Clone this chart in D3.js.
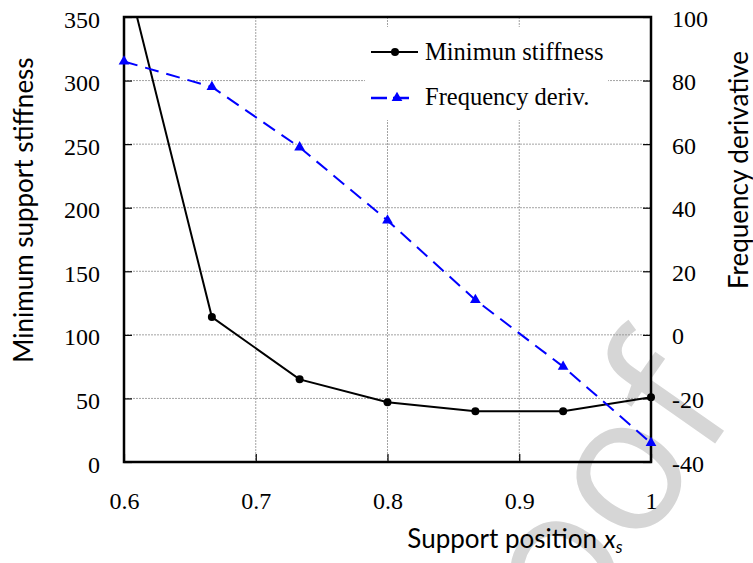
<!DOCTYPE html>
<html lang="en">
<head>
    <meta charset="UTF-8">
    <title>Minimum support stiffness</title>
    <script src="https://d3js.org/d3.v7.min.js"></script>
    <style>
        body { margin: 0; background: #fff; }
    </style>
</head>
<body>
    <div id="chart"></div>
    <script>
        // Data
        const positions = [0.6, 0.6667, 0.7333, 0.8, 0.8667, 0.9333, 1.0];
        const minStiffness = [391, 114, 65, 47, 40, 40, 51];
        const freqDeriv = [86, 78, 59, 36, 11, -10, -34];
        const xTicks = [0.6, 0.7, 0.8, 0.9, 1];
        const leftTicks = [0, 50, 100, 150, 200, 250, 300, 350];
        const rightTicks = [-40, -20, 0, 20, 40, 60, 80, 100];
        const seriesNames = ["Minimun stiffness", "Frequency deriv."];

        const width = 753;
        const height = 563;
        const margin = { top: 17, right: 102, bottom: 101, left: 124 };
        const innerW = width - margin.left - margin.right;
        const innerH = height - margin.top - margin.bottom;

        const svg = d3.select("#chart")
            .append("svg")
            .attr("width", width)
            .attr("height", height);

        // Watermark behind the chart
        svg.append("text")
            .attr("transform", "translate(462,805) rotate(-55)")
            .style("font-family", "'Open Sans', sans-serif")
            .style("font-size", "190px")
            .attr("fill", "#d6d6d6")
            .text("Proof");

        const g = svg.append("g")
            .attr("transform", `translate(${margin.left},${margin.top})`);

        const x = d3.scaleLinear().domain([0.6, 1]).range([0, innerW]);
        const yL = d3.scaleLinear().domain([0, 350]).range([innerH, 0]);
        const yR = d3.scaleLinear().domain([-40, 100]).range([innerH, 0]);

        // Grid lines
        g.append("g")
            .selectAll("line")
            .data(leftTicks.slice(1, -1))
            .join("line")
            .attr("x1", 0).attr("x2", innerW)
            .attr("y1", d => yL(d)).attr("y2", d => yL(d))
            .attr("stroke", "#8c8c8c")
            .attr("stroke-width", 0.8)
            .attr("stroke-dasharray", "2,1");

        g.append("g")
            .selectAll("line")
            .data(xTicks.slice(1, -1))
            .join("line")
            .attr("x1", d => x(d)).attr("x2", d => x(d))
            .attr("y1", 0).attr("y2", innerH)
            .attr("stroke", "#8c8c8c")
            .attr("stroke-width", 0.8)
            .attr("stroke-dasharray", "2,1");

        // Legend background hides the grid
        g.append("rect")
            .attr("x", 365 - margin.left).attr("y", 27 - margin.top)
            .attr("width", 243).attr("height", 93)
            .attr("fill", "#fff");

        // Axes with inward ticks; plain hyphen for negatives like the original
        const tickFont = "'Liberation Serif', 'Times New Roman', serif";
        const plain = d => String(d);

        const xAxis = g.append("g")
            .attr("transform", `translate(0,${innerH})`)
            .call(d3.axisBottom(x).tickValues(xTicks).tickSize(-8).tickPadding(30)
                .tickFormat(plain));
        const leftAxis = g.append("g")
            .call(d3.axisLeft(yL).tickValues(leftTicks).tickSize(-8).tickPadding(24)
                .tickFormat(plain));
        const rightAxis = g.append("g")
            .attr("transform", `translate(${innerW},0)`)
            .call(d3.axisRight(yR).tickValues(rightTicks).tickSize(-8).tickPadding(21)
                .tickFormat(plain));

        [xAxis, leftAxis, rightAxis].forEach(a => {
            a.attr("font-family", null).attr("font-size", null);
            a.select(".domain").remove();
            a.selectAll(".tick line").attr("stroke", "#000").attr("stroke-width", 1.2);
            a.selectAll("text")
                .style("font-family", tickFont)
                .style("font-size", "24px")
                .attr("fill", "#000");
        });
        leftAxis.selectAll("text").attr("dy", "0.42em");
        rightAxis.selectAll("text").attr("dy", "0.38em");

        // Frame
        g.append("rect")
            .attr("width", innerW).attr("height", innerH)
            .attr("fill", "none")
            .attr("stroke", "#000")
            .attr("stroke-width", 2.5);

        g.append("clipPath").attr("id", "plot-clip")
            .append("rect").attr("width", innerW).attr("height", innerH);

        // Minimum stiffness series
        const stiffData = positions.map((p, i) => ({ x: p, y: minStiffness[i] }));
        g.append("path")
            .datum(stiffData)
            .attr("clip-path", "url(#plot-clip)")
            .attr("fill", "none")
            .attr("stroke", "#000")
            .attr("stroke-width", 2)
            .attr("d", d3.line().x(d => x(d.x)).y(d => yL(d.y)));

        g.append("g")
            .selectAll("circle")
            .data(stiffData.filter(d => d.y <= 350))
            .join("circle")
            .attr("cx", d => x(d.x))
            .attr("cy", d => yL(d.y))
            .attr("r", 4)
            .attr("fill", "#000");

        // Frequency derivative series
        const freqData = positions.map((p, i) => ({ x: p, y: freqDeriv[i] }));
        g.append("path")
            .datum(freqData)
            .attr("fill", "none")
            .attr("stroke", "#0000ff")
            .attr("stroke-width", 2)
            .attr("stroke-dasharray", "14,8")
            .attr("d", d3.line().x(d => x(d.x)).y(d => yR(d.y)));

        const tri = d3.symbol().type(d3.symbolTriangle).size(50);
        g.append("g")
            .selectAll("path")
            .data(freqData)
            .join("path")
            .attr("transform", d => `translate(${x(d.x)},${yR(d.y)})`)
            .attr("d", tri)
            .attr("fill", "#0000ff");

        // Legend
        const legend = svg.append("g");
        legend.append("line")
            .attr("x1", 371).attr("x2", 418).attr("y1", 52).attr("y2", 52)
            .attr("stroke", "#000").attr("stroke-width", 2);
        legend.append("circle")
            .attr("cx", 395).attr("cy", 52).attr("r", 4).attr("fill", "#000");
        legend.append("line")
            .attr("x1", 371).attr("x2", 414).attr("y1", 98).attr("y2", 98)
            .attr("stroke", "#0000ff").attr("stroke-width", 2.5)
            .attr("stroke-dasharray", "16,6");
        legend.append("path")
            .attr("transform", "translate(397,98)")
            .attr("d", tri)
            .attr("fill", "#0000ff");
        legend.selectAll("text")
            .data(seriesNames)
            .join("text")
            .attr("x", 425)
            .attr("y", (d, i) => 60 + i * 45)
            .style("font-family", tickFont)
            .style("font-size", "24.5px")
            .text(d => d);

        // Axis titles
        const titleFont = "Lato, sans-serif";
        svg.append("text")
            .attr("transform", "translate(33,210) rotate(-90)")
            .attr("text-anchor", "middle")
            .style("font-family", titleFont)
            .style("font-size", "26px")
            .text("Minimum support stiffness");

        svg.append("text")
            .attr("transform", "translate(748,170) rotate(-90)")
            .attr("text-anchor", "middle")
            .style("font-family", titleFont)
            .style("font-size", "26px")
            .text("Frequency derivative");

        const xTitle = svg.append("text")
            .attr("x", 515)
            .attr("y", 548)
            .attr("text-anchor", "middle")
            .style("font-family", titleFont)
            .style("font-size", "26px");
        xTitle.append("tspan").text("Support position ");
        xTitle.append("tspan").attr("font-style", "italic").text("x");
        xTitle.append("tspan").attr("font-style", "italic")
            .attr("font-size", 17).attr("dy", 5).text("s");
    </script>
</body>
</html>
